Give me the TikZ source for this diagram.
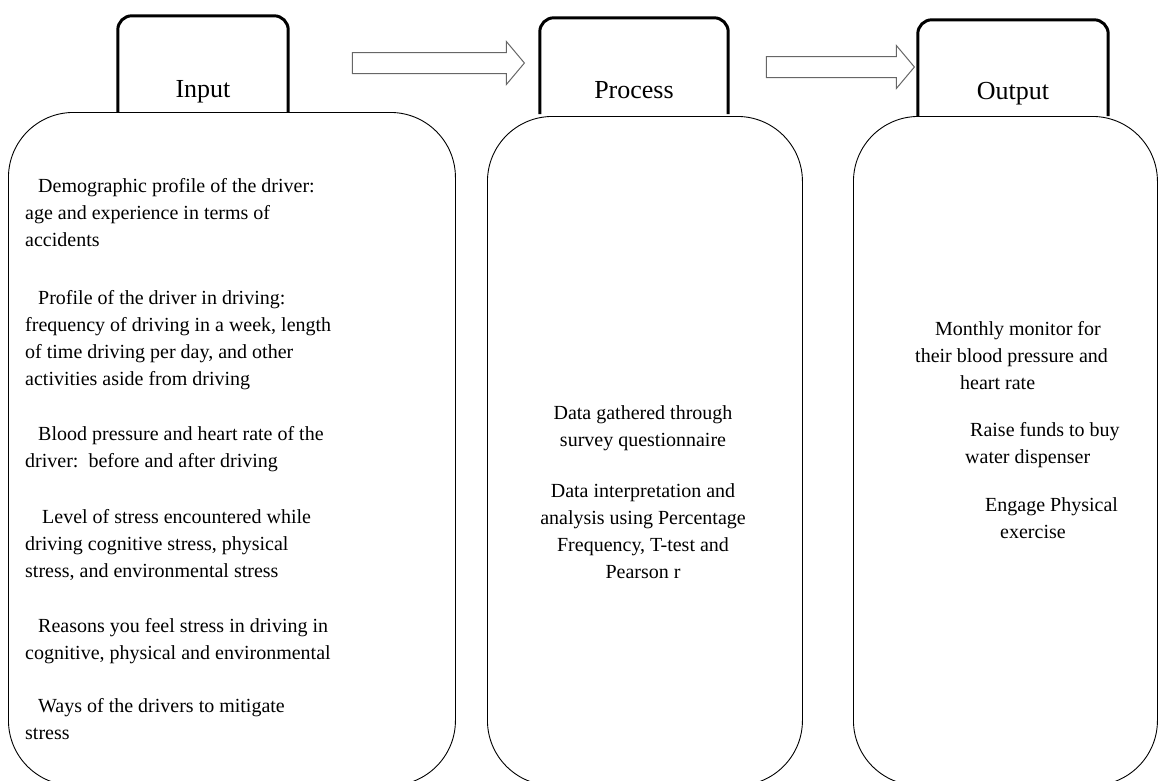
\documentclass[tikz,border=0pt]{standalone}
\usepackage{fontspec}
\setmainfont{Liberation Serif}
\usetikzlibrary{shapes.arrows}
\begin{document}
\begin{tikzpicture}
    [
    x=1pt, y=-1pt,
    panel/.style={draw,line width=0.9pt,rounded corners=65pt,anchor=north west,inner sep=0pt},
    tabbox/.style={inner sep=0pt,minimum width=#1,minimum height=96pt},
    tabline/.style={line width=3pt,rounded corners=14pt},
    tabtext/.style={inner sep=0pt,font=\fontsize{26}{30}\selectfont},
    item/.style={inner sep=0pt,anchor=north west,align=left,font=\fontsize{20}{27}\selectfont},
    citem/.style={inner sep=0pt,anchor=north,align=center,font=\fontsize{20}{27}\selectfont},
    flow/.style={single arrow,draw=black!60,line width=1pt,inner xsep=0pt,inner ysep=10pt,
      single arrow head extend=11pt,single arrow tip angle=100}
    ]
    \path[use as bounding box,clip] (0,0) rectangle (1165,780);
    % big panels
    \node (inbox) at (8,112) [panel, minimum width=447pt, minimum height=673pt] {};
    \node (procbox) at (487,116) [panel, minimum width=315pt, minimum height=669pt] {};
    \node (outbox) at (853,116) [panel, minimum width=304pt, minimum height=669pt] {};
    % tabs
    \node (in) at (203,64) [tabbox=170pt] {};
    \node (proc) at (634,66) [tabbox=188pt] {};
    \node (out) at (1013,68) [tabbox=190pt] {};
    \draw [tabline] (in.south west) -- (in.north west) -- (in.north east) -- (in.south east);
    \draw [tabline] (proc.south west) -- (proc.north west) -- (proc.north east) -- (proc.south east);
    \draw [tabline] (out.south west) -- (out.north west) -- (out.north east) -- (out.south east);
    \node (intxt) at ([yshift=-28pt]in.center) [tabtext] {Input};
    \node (proctxt) at ([yshift=-24pt]proc.center) [tabtext] {Process};
    \node (outtxt) at ([yshift=-26pt]out.center) [tabtext] {Output};
    % arrows
    \node (a1) at (434,63) [flow, minimum height=172pt] {};
    \node (a2) at (836,67) [flow, minimum height=148pt] {};
    % input list
    \node (i1) at (25,178) [item] {\hspace*{13pt}Demographic profile of the driver:\\age and experience in terms of\\accidents};
    \node (i2) at (25,290) [item] {\hspace*{13pt}Profile of the driver in driving:\\frequency of driving in a week, length\\of time driving per day, and other\\activities aside from driving};
    \node (i3) at (25,426) [item] {\hspace*{13pt}Blood pressure and heart rate of the\\driver:\ \ before and after driving};
    \node (i4) at (25,509) [item] {\hspace*{17pt}Level of stress encountered while\\driving cognitive stress, physical\\stress, and environmental stress};
    \node (i5) at (25,618) [item] {\hspace*{13pt}Reasons you feel stress in driving in\\cognitive, physical and environmental};
    \node (i6) at (25,698) [item] {\hspace*{13pt}Ways of the drivers to mitigate\\stress};
    % process list
    \node (p1) at (643,405) [citem] {Data gathered through\\survey questionnaire};
    \node (p2) at (643,483) [citem] {Data interpretation and\\analysis using Percentage\\Frequency, T-test and\\Pearson r};
    % output list
    \node (o1) at (915,321) [item] {\hspace*{20pt}Monthly monitor for\\their blood pressure and\\\hspace*{45pt}heart rate};
    \node (o2) at (965,422) [item] {\hspace*{5pt}Raise funds to buy\\water dispenser};
    \node (o3) at (985,497) [item] {Engage Physical\\\hspace*{15pt}exercise};
\end{tikzpicture}
\end{document}
